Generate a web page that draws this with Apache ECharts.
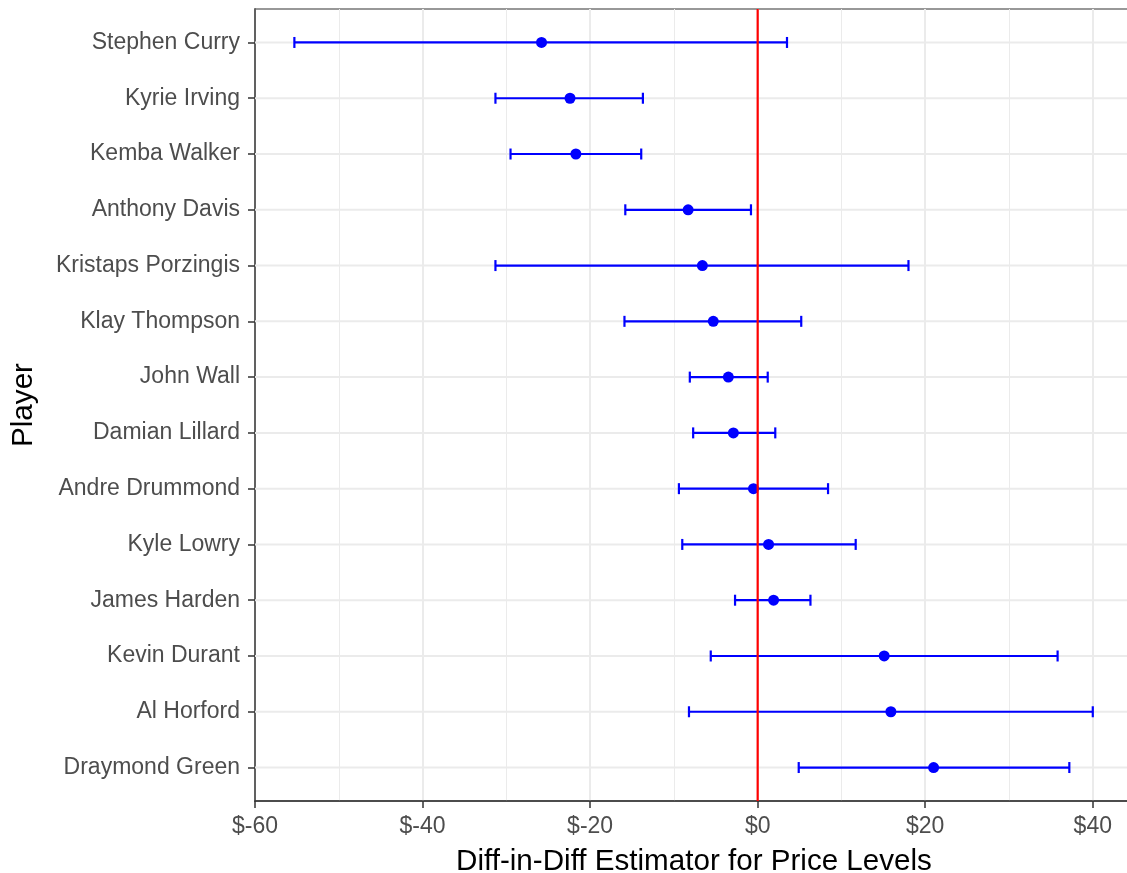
<!DOCTYPE html>
<html>
<head>
<meta charset="utf-8">
<title>Diff-in-Diff Estimator by Player</title>
<script src="https://cdn.jsdelivr.net/npm/echarts@6/dist/echarts.min.js"></script>
<style>
  html, body { margin: 0; padding: 0; background: #ffffff; }
  #chart { width: 1127px; height: 873px; }
</style>
</head>
<body>
<div id="chart"></div>
<script>
// Players, top to bottom
const players = [
  'Stephen Curry', 'Kyrie Irving', 'Kemba Walker', 'Anthony Davis',
  'Kristaps Porzingis', 'Klay Thompson', 'John Wall', 'Damian Lillard',
  'Andre Drummond', 'Kyle Lowry', 'James Harden', 'Kevin Durant',
  'Al Horford', 'Draymond Green'
];
// Point estimates and confidence bounds (dollars)
const estimate = [-25.8, -22.4, -21.7, -8.3, -6.6, -5.3, -3.5, -2.9, -0.5, 1.3, 1.9, 15.1, 15.9, 21.0];
const lower    = [-55.3, -31.3, -29.5, -15.8, -31.3, -15.9, -8.1, -7.7, -9.4, -9.0, -2.7, -5.6, -8.2, 4.9];
const upper    = [3.5, -13.7, -13.9, -0.8, 18.0, 5.2, 1.2, 2.1, 8.4, 11.7, 6.3, 35.8, 40.0, 37.2];
// x-axis ticks
const xTicks = [-60, -40, -20, 0, 20, 40];
const referenceLine = 0;

const rows = players.map((_, i) => i + 1);
const yMin = 0.4, yMax = players.length + 0.6;
const xMax = 44.8;

const FONT = "'Liberation Sans', Arial, sans-serif";
const BLUE = '#0000ff';

const chart = echarts.init(document.getElementById('chart'), null, { renderer: 'canvas' });

const option = {
  animation: false,
  backgroundColor: '#ffffff',
  grid: {
    left: 255, right: -6, top: 9, bottom: 72,
    outerBoundsMode: 'none',
    containLabel: false,
    show: true, borderColor: '#333333', borderWidth: 1.2, backgroundColor: '#ffffff'
  },
  xAxis: {
    type: 'value',
    min: xTicks[0],
    max: xMax,
    interval: 20,
    name: 'Diff-in-Diff Estimator for Price Levels',
    nameLocation: 'middle',
    nameGap: 46,
    nameTextStyle: { color: '#000000', fontSize: 29.6, fontFamily: FONT },
    axisLine: { show: true, onZero: false, lineStyle: { color: '#333333', width: 1.5 } },
    axisTick: { show: true, length: 7, lineStyle: { color: '#333333', width: 1.5 } },
    axisLabel: {
      color: '#4d4d4d', fontSize: 23, fontFamily: FONT, margin: 14,
      showMaxLabel: false,
      formatter: v => (xTicks.indexOf(v) >= 0 ? '$' + v : '')
    },
    splitLine: { show: true, lineStyle: { color: '#ebebeb', width: 2 } },
    minorTick: { show: false, splitNumber: 2 },
    minorSplitLine: { show: true, lineStyle: { color: '#ebebeb', width: 1 } }
  },
  yAxis: {
    type: 'value',
    inverse: true,
    min: yMin,
    max: yMax,
    name: 'Player',
    nameLocation: 'middle',
    nameGap: 216,
    nameTextStyle: { color: '#000000', fontSize: 29.6, fontFamily: FONT },
    axisLine: { show: true, onZero: false, lineStyle: { color: '#333333', width: 1.5 } },
    axisTick: { show: true, length: 7, customValues: rows, lineStyle: { color: '#333333', width: 1.5 } },
    axisLabel: {
      color: '#4d4d4d', fontSize: 23, fontFamily: FONT, margin: 15,
      padding: [4, 0, 0, 0],
      customValues: rows,
      formatter: v => players[Math.round(v) - 1] || ''
    },
    splitLine: { show: false }
  },
  series: [
    {
      // horizontal grid lines at each player row
      type: 'custom',
      silent: true,
      z: 1,
      data: rows.map(r => [r]),
      encode: { y: 0 },
      renderItem: (params, api) => {
        const r = api.value(0);
        const a = api.coord([xTicks[0], r]);
        const b = api.coord([xMax, r]);
        return {
          type: 'line',
          shape: { x1: a[0], y1: a[1], x2: b[0], y2: b[1] },
          style: { stroke: '#ebebeb', lineWidth: 2 }
        };
      }
    },
    {
      // error bars with end caps
      type: 'custom',
      z: 3,
      data: players.map((_, i) => [rows[i], lower[i], upper[i]]),
      encode: { y: 0, x: [1, 2] },
      renderItem: (params, api) => {
        const r = api.value(0);
        const lo = api.coord([api.value(1), r]);
        const hi = api.coord([api.value(2), r]);
        const cap = 5.5;
        const style = { stroke: BLUE, lineWidth: 2.2 };
        return {
          type: 'group',
          children: [
            { type: 'line', shape: { x1: lo[0], y1: lo[1], x2: hi[0], y2: hi[1] }, style },
            { type: 'line', shape: { x1: lo[0], y1: lo[1] - cap, x2: lo[0], y2: lo[1] + cap }, style },
            { type: 'line', shape: { x1: hi[0], y1: hi[1] - cap, x2: hi[0], y2: hi[1] + cap }, style }
          ]
        };
      }
    },
    {
      // point estimates
      type: 'scatter',
      z: 4,
      symbol: 'circle',
      symbolSize: 11,
      itemStyle: { color: BLUE, opacity: 1 },
      data: players.map((_, i) => [estimate[i], rows[i]])
    },
    {
      // zero reference line
      type: 'custom',
      silent: true,
      z: 6,
      data: [[referenceLine]],
      encode: { x: 0 },
      renderItem: (params, api) => {
        const v = api.value(0);
        const a = api.coord([v, yMin]);
        const b = api.coord([v, yMax]);
        return {
          type: 'line',
          shape: { x1: a[0], y1: a[1], x2: b[0], y2: b[1] },
          style: { stroke: '#ff0000', lineWidth: 2.2 }
        };
      }
    }
  ]
};

chart.setOption(option);
</script>
</body>
</html>
